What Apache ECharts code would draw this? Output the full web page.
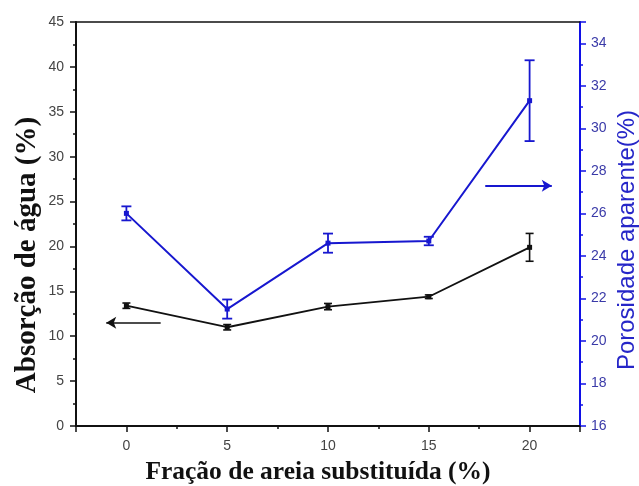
<!DOCTYPE html>
<html>
<head>
<meta charset="utf-8">
<script src="https://cdn.jsdelivr.net/npm/echarts@6/dist/echarts.min.js"></script>
<style>
  html, body { margin: 0; padding: 0; background: #ffffff; }
  #chart { width: 639px; height: 486px; }
</style>
</head>
<body>
<div id="chart"></div>
<script>
// Fraction of sand replaced (%)
const fractions = [0, 5, 10, 15, 20];
// Water absorption (%) and its standard deviation
const absorption = [13.4, 11.0, 13.3, 14.4, 19.9];
const absorptionErr = [0.3, 0.3, 0.35, 0.2, 1.55];
// Apparent porosity (%) and its standard deviation
const porosity = [26.0, 21.5, 24.6, 24.7, 31.3];
const porosityErr = [0.33, 0.45, 0.45, 0.2, 1.9];

// Arrows telling which axis each curve belongs to (data coordinates)
const absorptionArrow = [[1.7, 11.5], [-1.0, 11.5]];
const porosityArrow = [[17.8, 27.3], [21.1, 27.3]];

const BLACK = '#111111';
const BLUE = '#1717cf';
const BLUE_AXIS = '#1010e6';
const LABEL_FONT = '"Liberation Sans", Arial, sans-serif';
const TITLE_FONT = '"Liberation Serif", "Times New Roman", serif';

const pairs = (xs, ys) => xs.map((x, i) => [x, ys[i]]);
const ranges = (xs, ys, es) => xs.map((x, i) => [x, ys[i] - es[i], ys[i] + es[i]]);

function errorBars(capHalf, color, width) {
  return function (params, api) {
    const x = api.value(0);
    const lo = api.coord([x, api.value(1)]);
    const hi = api.coord([x, api.value(2)]);
    const style = { stroke: color, lineWidth: width };
    return {
      type: 'group',
      children: [
        { type: 'line', shape: { x1: hi[0], y1: hi[1], x2: lo[0], y2: lo[1] }, style },
        { type: 'line', shape: { x1: hi[0] - capHalf, y1: hi[1], x2: hi[0] + capHalf, y2: hi[1] }, style },
        { type: 'line', shape: { x1: lo[0] - capHalf, y1: lo[1], x2: lo[0] + capHalf, y2: lo[1] }, style }
      ]
    };
  };
}

const chart = echarts.init(document.getElementById('chart'), null, { renderer: 'canvas' });

const xRange = { min: -2.5, max: 22.5 };

chart.setOption({
  animation: false,
  backgroundColor: '#ffffff',
  grid: { left: 76, right: 59, top: 22, bottom: 60, containLabel: false },
  xAxis: [
    {
      type: 'value', position: 'bottom', ...xRange, splitNumber: 5,
      axisLine: { show: true, onZero: false, lineStyle: { color: BLACK, width: 2 } },
      axisTick: { show: true, length: 6, lineStyle: { color: BLACK, width: 1.5 } },
      axisLabel: {
        margin: 13, color: '#444444', fontSize: 14, fontFamily: LABEL_FONT,
        formatter: v => (v % 5 === 0 ? String(v) : '')
      },
      splitLine: { show: false }
    },
    {
      // short intermediate ticks every 2.5
      type: 'value', position: 'bottom', ...xRange, interval: 2.5,
      axisLine: { show: false, onZero: false },
      axisTick: { show: true, length: 3, lineStyle: { color: BLACK, width: 1.5 } },
      axisLabel: { show: false },
      splitLine: { show: false }
    },
    {
      // frame top edge
      type: 'value', position: 'top', ...xRange,
      axisLine: { show: true, onZero: false, lineStyle: { color: BLACK, width: 1.5 } },
      axisTick: { show: false },
      axisLabel: { show: false },
      splitLine: { show: false }
    }
  ],
  yAxis: [
    {
      type: 'value', position: 'left', min: 0, max: 45, interval: 5,
      axisLine: { show: true, onZero: false, lineStyle: { color: BLACK, width: 2 } },
      axisTick: { show: true, length: 6, lineStyle: { color: BLACK, width: 1.5 } },
      minorTick: { show: true, splitNumber: 2, length: 3, lineStyle: { color: BLACK, width: 1.5 } },
      axisLabel: { margin: 12, color: '#444444', fontSize: 14, fontFamily: LABEL_FONT },
      splitLine: { show: false }
    },
    {
      type: 'value', position: 'right', min: 16, max: 35, interval: 2,
      axisLine: { show: true, onZero: false, lineStyle: { color: BLUE_AXIS, width: 2 } },
      axisTick: { show: true, length: 6, lineStyle: { color: BLUE_AXIS, width: 1.5 } },
      axisLabel: {
        margin: 11, color: '#3a3aa8', fontSize: 14, fontFamily: LABEL_FONT,
        formatter: v => (v % 2 === 0 ? String(v) : '')
      },
      splitLine: { show: false }
    },
    {
      // short intermediate ticks every 1 on the porosity axis
      type: 'value', position: 'right', min: 16, max: 35, interval: 1,
      axisLine: { show: false, onZero: false },
      axisTick: { show: true, length: 3, lineStyle: { color: BLUE_AXIS, width: 1.5 } },
      axisLabel: { show: false },
      splitLine: { show: false }
    }
  ],
  graphic: [
    {
      type: 'text', x: 28, y: 255, rotation: Math.PI / 2,
      style: {
        text: 'Absorção de água (%)', fill: BLACK,
        font: 'bold 29px ' + TITLE_FONT, align: 'center', verticalAlign: 'middle'
      }
    },
    {
      type: 'text', x: 627, y: 240, rotation: Math.PI / 2,
      style: {
        text: 'Porosidade aparente(%)', fill: '#2626c8',
        font: '24px ' + LABEL_FONT, align: 'center', verticalAlign: 'middle'
      }
    },
    {
      type: 'text', x: 318, y: 472,
      style: {
        text: 'Fração de areia substituída (%)', fill: BLACK,
        font: 'bold 25.5px ' + TITLE_FONT, align: 'center', verticalAlign: 'middle'
      }
    }
  ],
  series: [
    {
      name: 'Absorção de água', type: 'line', xAxisIndex: 0, yAxisIndex: 0,
      data: pairs(fractions, absorption),
      symbol: 'rect', symbolSize: 5,
      lineStyle: { color: BLACK, width: 1.8 },
      itemStyle: { color: BLACK },
      emphasis: { disabled: true },
      markLine: {
        silent: true, symbol: ['none', 'arrow'], symbolSize: [9, 10],
        label: { show: false },
        lineStyle: { color: BLACK, width: 1.6, type: 'solid' },
        data: [[{ coord: absorptionArrow[0] }, { coord: absorptionArrow[1] }]]
      }
    },
    {
      name: 'Absorção de água (desvio)', type: 'custom', xAxisIndex: 0, yAxisIndex: 0,
      data: ranges(fractions, absorption, absorptionErr),
      encode: { x: 0, y: [1, 2] },
      renderItem: errorBars(4, BLACK, 1.6),
      z: 3
    },
    {
      name: 'Porosidade aparente', type: 'line', xAxisIndex: 0, yAxisIndex: 1,
      data: pairs(fractions, porosity),
      symbol: 'rect', symbolSize: 5,
      lineStyle: { color: BLUE, width: 2 },
      itemStyle: { color: BLUE },
      emphasis: { disabled: true },
      markLine: {
        silent: true, symbol: ['none', 'arrow'], symbolSize: [9, 10],
        label: { show: false },
        lineStyle: { color: BLUE, width: 1.8, type: 'solid' },
        data: [[{ coord: porosityArrow[0] }, { coord: porosityArrow[1] }]]
      }
    },
    {
      name: 'Porosidade aparente (desvio)', type: 'custom', xAxisIndex: 0, yAxisIndex: 1,
      data: ranges(fractions, porosity, porosityErr),
      encode: { x: 0, y: [1, 2] },
      renderItem: errorBars(5, BLUE, 1.8),
      z: 3
    }
  ]
});
</script>
</body>
</html>
